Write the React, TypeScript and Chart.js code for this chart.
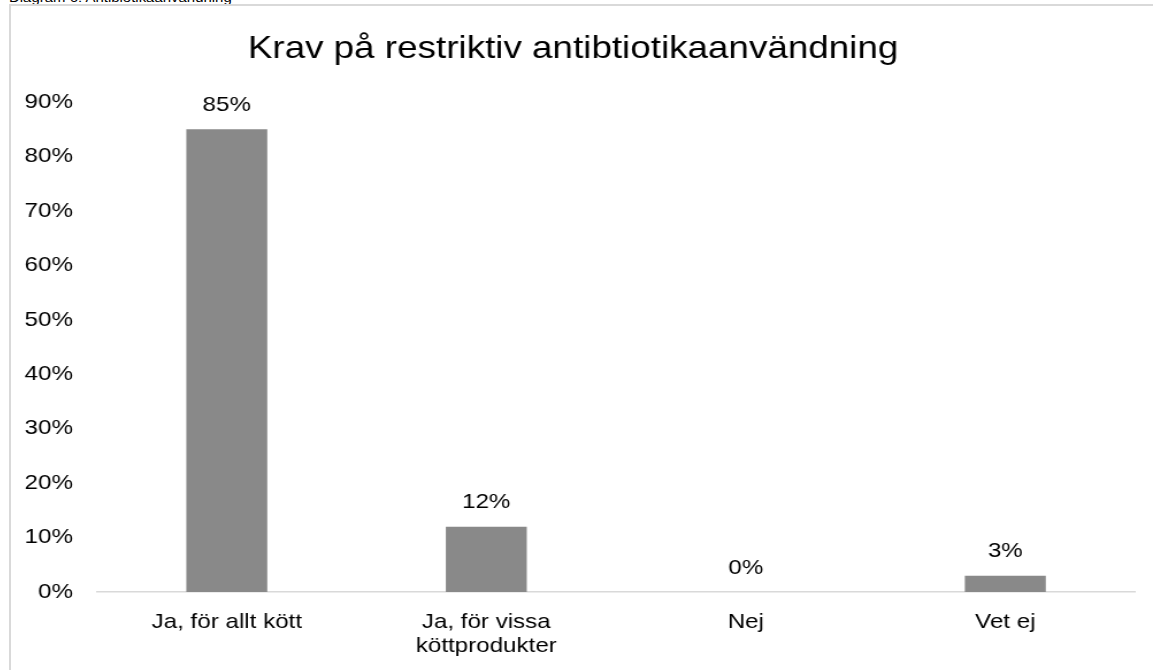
import React, { useEffect, useRef } from "react";
import { Chart, registerables } from "chart.js";

Chart.register(...registerables);

const pageCaption = "Diagram 6: Antibiotikaanvändning";
const chartTitle = "Krav på restriktiv antibtiotikaanvändning";
const categories: (string | string[])[] = [
  "Ja, för allt kött",
  ["Ja, för vissa", "köttprodukter"],
  "Nej",
  "Vet ej",
];
const values = [85, 12, 0, 3];
const yMin = 0;
const yMax = 90;
const yStep = 10;

const FONT = "'Liberation Sans', Arial, Helvetica, sans-serif";
// the reference renders its text horizontally widened; reproduce by stretching the canvas
const STRETCH = 1.15;
const CSS_W = 1142;
const CSS_H = 664;
const INNER_W = Math.round(CSS_W / STRETCH);

const dataLabelPlugin = {
  id: "dataLabels",
  afterDatasetsDraw(chart: any) {
    const ctx = chart.ctx;
    const meta = chart.getDatasetMeta(0);
    ctx.save();
    ctx.font = `21px ${FONT}`;
    ctx.fillStyle = "#000000";
    ctx.textAlign = "center";
    ctx.textBaseline = "middle";
    meta.data.forEach((bar: any, i: number) => {
      ctx.fillText(`${values[i]}%`, bar.x, bar.y - 24);
    });
    ctx.restore();
  },
};

export default function App() {
  const ref = useRef<HTMLCanvasElement | null>(null);

  useEffect(() => {
    if (!ref.current) return;
    const chart = new Chart(ref.current, {
      type: "bar",
      data: {
        labels: categories,
        datasets: [
          {
            data: values,
            backgroundColor: "#898989",
            borderWidth: 0,
            barPercentage: 0.312,
            categoryPercentage: 1,
          },
        ],
      },
      options: {
        animation: false,
        responsive: false,
        maintainAspectRatio: false,
        devicePixelRatio: 1,
        layout: { padding: { left: 0, right: 15.6, top: 0, bottom: 0 } },
        plugins: {
          legend: { display: false },
          tooltip: { enabled: false },
          title: {
            display: true,
            text: chartTitle,
            color: "#000000",
            font: { family: FONT, size: 32, weight: "normal", lineHeight: 1.2 },
            padding: { top: 23.5, bottom: 34.1 },
          },
        },
        scales: {
          x: {
            grid: { display: false, drawTicks: false },
            border: { display: true, color: "#d9d9d9", width: 1.5 },
            ticks: {
              color: "#000000",
              font: { family: FONT, size: 21, lineHeight: 1.143 },
              padding: 18,
              maxRotation: 0,
              minRotation: 0,
            },
            afterFit: (scale: any) => {
              scale.height = 78;
            },
          },
          y: {
            min: yMin,
            max: yMax,
            grid: { display: false, drawTicks: false },
            border: { display: false },
            ticks: {
              stepSize: yStep,
              color: "#000000",
              font: { family: FONT, size: 21 },
              padding: 20.9,
              callback: (v: any) => `${v}%`,
            },
            afterFit: (scale: any) => {
              scale.width = 74.8;
            },
          },
        },
      },
      plugins: [dataLabelPlugin],
    });
    return () => chart.destroy();
  }, []);

  return (
    <div style={{ position: "absolute", left: 0, top: 0, width: 1153, height: 670, overflow: "hidden", background: "#ffffff" }}>
      <div
        style={{
          position: "absolute",
          left: 9,
          top: -10,
          fontFamily: FONT,
          fontSize: 13,
          color: "#000000",
          whiteSpace: "nowrap",
          transform: `scaleX(${STRETCH})`,
          transformOrigin: "left top",
        }}
      >
        {pageCaption}
      </div>
      <div
        style={{
          position: "absolute",
          left: 9,
          top: 4,
          width: 1160,
          height: 700,
          border: "2px solid #d9d9d9",
          boxSizing: "border-box",
        }}
      />
      <canvas
        ref={ref}
        width={INNER_W}
        height={CSS_H}
        style={{ position: "absolute", left: 11, top: 6, width: CSS_W, height: CSS_H }}
      />
    </div>
  );
}
